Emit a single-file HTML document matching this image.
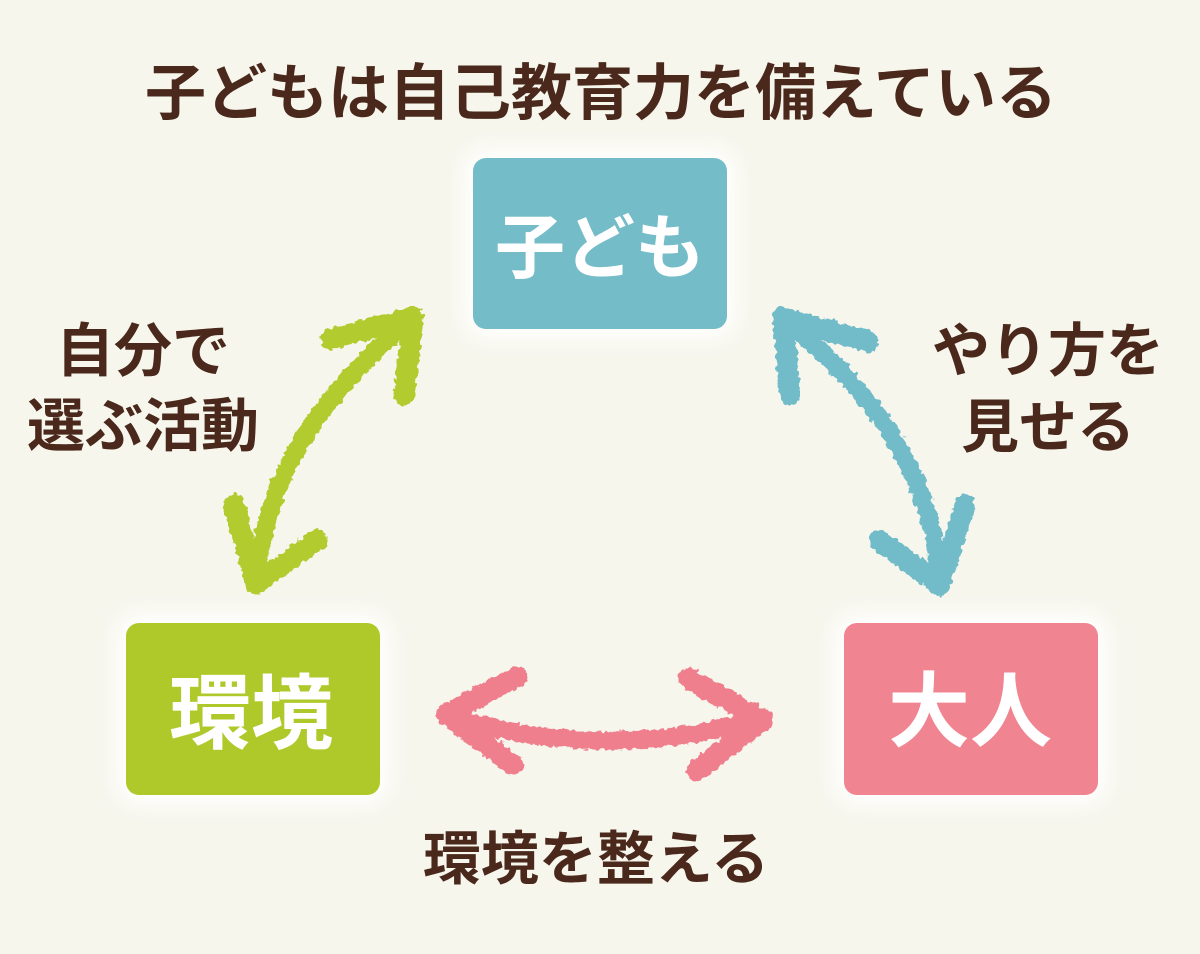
<!DOCTYPE html>
<html>
<head>
<meta charset="utf-8">
<style>
  html,body{margin:0;padding:0;}
  body{width:1200px;height:954px;background:#f7f6ed;position:relative;overflow:hidden;
    font-family:"Noto Sans CJK JP","Liberation Sans",sans-serif;font-weight:700;}
  .t{position:absolute;color:#4a291c;white-space:nowrap;text-align:center;line-height:1;}
  .box{position:absolute;border-radius:13px;box-shadow:0 0 22px 10px rgba(255,255,255,0.95);}
  .bt{position:absolute;color:#fff;white-space:nowrap;text-align:center;line-height:1;}
  svg{position:absolute;left:0;top:0;}
</style>
</head>
<body>

<div class="t" style="left:0;width:1202px;top:57px;font-size:61px;">子どもは自己教育力を備えている</div>

<div class="box" style="left:473px;top:158px;width:254px;height:171px;background:#74bcc8;"></div>
<div class="box" style="left:126px;top:623px;width:254px;height:172px;background:#afc92b;"></div>
<div class="box" style="left:844px;top:623px;width:254px;height:172px;background:#f08491;"></div>

<div class="bt" style="left:473px;width:254px;top:208px;font-size:70px;">子ども</div>
<div class="bt" style="left:126px;width:250px;top:666px;font-size:82px;">環境</div>
<div class="bt" style="left:844px;width:252px;top:664px;font-size:82px;">大人</div>

<div class="t" style="left:43px;width:200px;top:317px;font-size:58px;">自分で</div>
<div class="t" style="left:13px;width:260px;top:392px;font-size:58px;">選ぶ活動</div>
<div class="t" style="left:918px;width:260px;top:317px;font-size:58px;">やり方を</div>
<div class="t" style="left:948px;width:200px;top:393px;font-size:58px;">見せる</div>
<div class="t" style="left:396px;width:400px;top:825px;font-size:58px;">環境を整える</div>

<svg width="1200" height="954" viewBox="0 0 1200 954">
  <defs>
    <filter id="rough" x="-20%" y="-20%" width="140%" height="140%">
      <feTurbulence type="fractalNoise" baseFrequency="0.18" numOctaves="2" seed="4" result="n"/>
      <feDisplacementMap in="SourceGraphic" in2="n" scale="7" xChannelSelector="R" yChannelSelector="G"/>
    </filter>
  </defs>
  <g fill="none" stroke-linecap="round" stroke-linejoin="round" filter="url(#rough)">
    <!-- green -->
    <g stroke="#b2cb2d">
      <path d="M410,321 Q266,438 257,581" stroke-width="18"/>
      <path d="M331,339 L413,317 L404,395" stroke-width="21"/>
      <path d="M234,505 L256,584 L317,540" stroke-width="21"/>
    </g>
    <!-- blue -->
    <g stroke="#72bcca">
      <path d="M786,321 Q932,438 939,581" stroke-width="18"/>
      <path d="M868,341 L783,318 L790,395" stroke-width="21"/>
      <path d="M879,540 L940,585 L965,505" stroke-width="21"/>
    </g>
    <!-- pink -->
    <g stroke="#f07f8d">
      <path d="M450,716 Q604,764 758,719" stroke-width="18"/>
      <path d="M517,677 L446,714 L513,765" stroke-width="21"/>
      <path d="M689,679 L763,720 L697,770" stroke-width="21"/>
    </g>
  </g>
</svg>

</body>
</html>
